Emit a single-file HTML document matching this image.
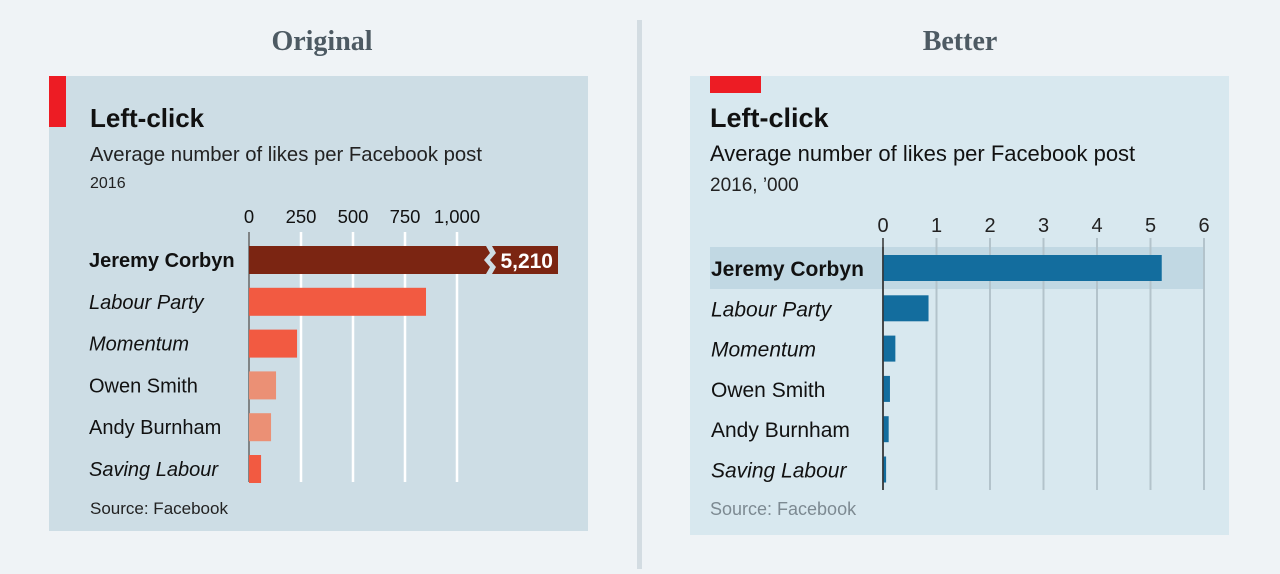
<!DOCTYPE html>
<html><head><meta charset="utf-8"><style>
body{margin:0;width:1280px;height:569px;background:#eff3f6;overflow:hidden;font-family:"Liberation Sans",sans-serif}
svg text{font-family:"Liberation Sans",sans-serif}
</style></head><body>
<svg width="1280" height="569">
<rect x="637" y="20" width="5" height="549" fill="#d3dce2"/>
<text x="322" y="50" text-anchor="middle" font-weight="bold" font-size="28" fill="#4d5a63" style="font-family:'Liberation Serif',serif">Original</text>
<text x="960" y="50" text-anchor="middle" font-weight="bold" font-size="28" fill="#4d5a63" style="font-family:'Liberation Serif',serif">Better</text>
<g id="left">
<rect x="49" y="76" width="539" height="455" fill="#cddde5"/>
<rect x="49" y="76" width="17" height="51" fill="#ed1c24"/>
<text x="90" y="127" font-size="26" font-weight="bold" fill="#111">Left-click</text>
<text x="90" y="161" font-size="20.3" fill="#222">Average number of likes per Facebook post</text>
<text x="90" y="188" font-size="16" fill="#222">2016</text>
<text x="90" y="514" font-size="17" fill="#222">Source: Facebook</text>
</g>
<g id="right">
<rect x="690" y="76" width="539" height="459" fill="#d8e8ef"/>
<rect x="710" y="76" width="51" height="17" fill="#ed1c24"/>
<text x="710" y="127" font-size="27" font-weight="bold" fill="#111">Left-click</text>
<text x="710" y="161" font-size="22" fill="#111">Average number of likes per Facebook post</text>
<text x="710" y="191" font-size="19" fill="#222">2016, ’000</text>
<text x="710" y="515" font-size="18" fill="#7d8a92">Source: Facebook</text>
</g>
</svg>
<script>
const categories=["Jeremy Corbyn","Labour Party","Momentum","Owen Smith","Andy Burnham","Saving Labour"];
const italic=[false,true,true,false,false,true];
const likes=[5210,851,231,130,106,58];
const leftTicks=[0,250,500,750,1000];
const leftTickLabels=["0","250","500","750","1,000"];
const rightTicks=[0,1,2,3,4,5,6];
const NS="http://www.w3.org/2000/svg";
function mk(parent,tag,attrs,txt){const e=document.createElementNS(NS,tag);for(const k in attrs)e.setAttribute(k,attrs[k]);if(txt!==undefined)e.textContent=txt;parent.appendChild(e);return e;}
// left
const L=document.getElementById('left');
const lx=v=>249+v*(208/1000);
const lRowY=i=>260+i*41.8;
leftTicks.forEach((t,i)=>{
  const g=mk(L,'line',{x1:lx(t),x2:lx(t),y1:232,y2:482,stroke:t===0?'#666':'#fff','stroke-width':t===0?1.5:2.5});
  
  
  const tx=mk(L,'text',{x:lx(t),y:223,'text-anchor':'middle','font-size':18.5,fill:'#111'},leftTickLabels[i]);
  
  
});
const cols=["#7b2512","#f25a41","#f25a41","#eb9075","#eb9075","#f25a41"];
categories.forEach((c,i)=>{
  const y=lRowY(i);
  const lab=mk(L,'text',{x:89,y:y+7,'font-size':20,fill:'#111','font-weight':i===0?'bold':'normal','font-style':italic[i]?'italic':'normal'},c);
  
  
  let w=lx(Math.min(likes[i],1000*1.33))-249;
  if(likes[i]>1250) w=309;
  const b=mk(L,'rect',{x:249,y:y-14,width:w,height:28,fill:cols[i]});
  
  
  if(likes[i]>1250){
    const t=y-14;
    const br=mk(L,'path',{d:`M486 ${t} L490 ${t+7} L484 ${t+14} L490 ${t+21} L486 ${t+28} L492 ${t+28} L496 ${t+21} L490 ${t+14} L496 ${t+7} L492 ${t} Z`,fill:'#cddde5'});
    
    
    const v=mk(L,'text',{x:553,y:y+8,'text-anchor':'end','font-size':21,'font-weight':'bold',fill:'#fff'},likes[i].toLocaleString('en-US'));
    
    
  }
});
// right
const R=document.getElementById('right');
const rx=v=>883+v*(321/6);
const rRowY=i=>268+i*40.3;
const hl=mk(R,'rect',{x:710,y:247,width:494,height:42,fill:'#c1d8e3'});


rightTicks.forEach(t=>{
  const g=mk(R,'line',{x1:rx(t),x2:rx(t),y1:238,y2:490,stroke:t===0?'#333':'#b3c3cb','stroke-width':t===0?1.5:2});
  
  
  const tx=mk(R,'text',{x:rx(t),y:232,'text-anchor':'middle','font-size':20,fill:'#222'},String(t));
  
  
});
categories.forEach((c,i)=>{
  const y=rRowY(i);
  const lab=mk(R,'text',{x:711,y:y+8,'font-size':21,fill:'#111','font-weight':i===0?'bold':'normal','font-style':italic[i]?'italic':'normal'},c);
  
  
  const b=mk(R,'rect',{x:883,y:y-13,width:rx(likes[i]/1000)-883,height:26,fill:'#136d9e'});
  
  
});
const z=mk(R,'line',{x1:883,x2:883,y1:247,y2:490,stroke:'#333','stroke-width':1.5});


</script>
</body></html>
